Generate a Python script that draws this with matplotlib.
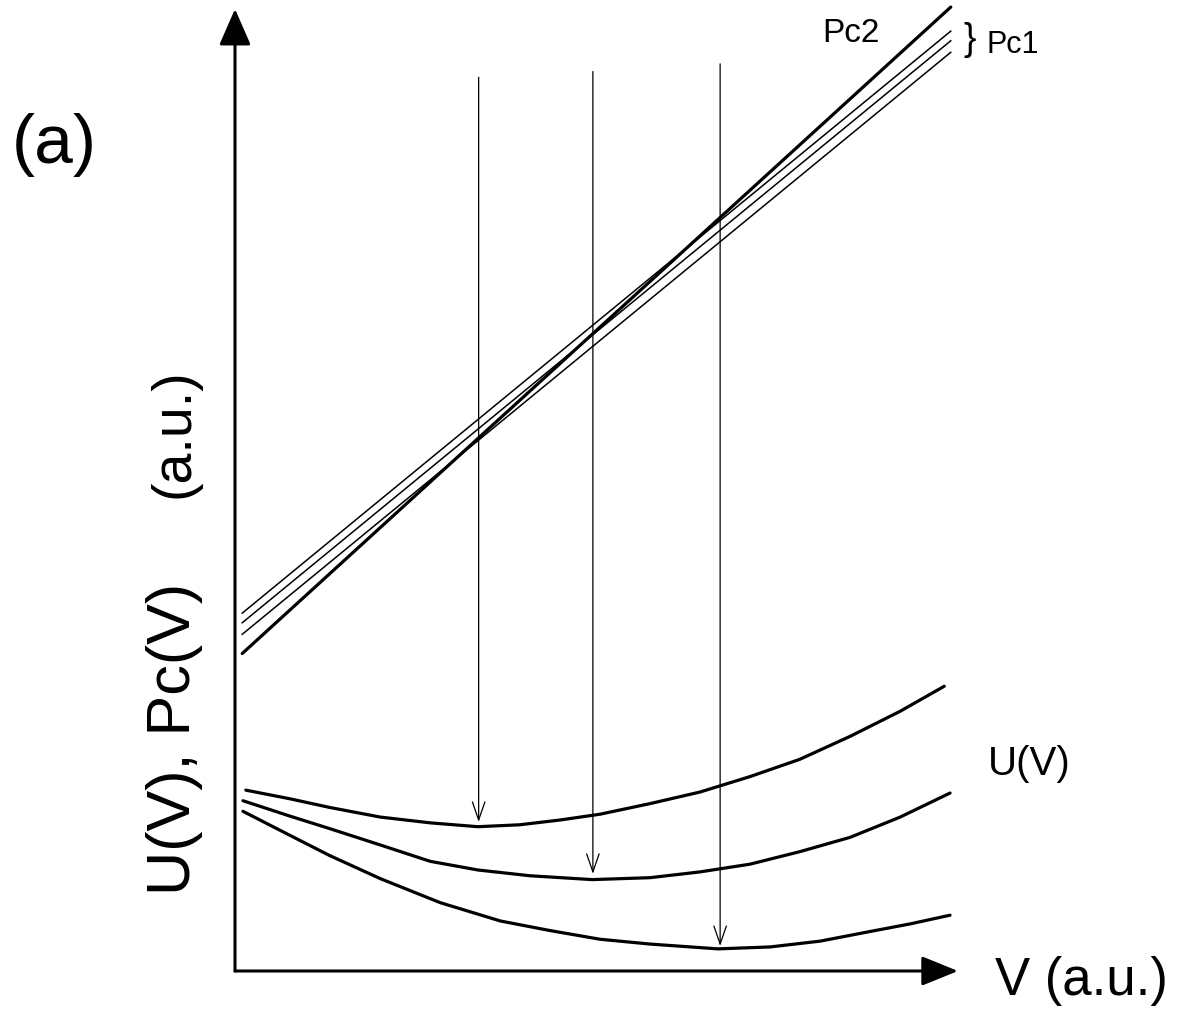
import matplotlib
matplotlib.use("Agg")
import matplotlib.pyplot as plt

plt.rcParams['font.family'] = ['Liberation Sans', 'DejaVu Sans']

# ---- data (arbitrary units) ----
pc_v = [0.1, 9.9]
pc2_u = [3.30, 10.02]
pc1a_u = [3.72, 9.77]
pc1b_u = [3.62, 9.67]
pc1c_u = [3.50, 9.55]

u1_v = [0.15, 0.76, 1.31, 2.01, 2.70, 3.36, 3.94, 4.50, 5.05, 5.74, 6.43, 7.12, 7.81, 8.51, 9.20, 9.81]
u1_u = [1.88, 1.79, 1.70, 1.60, 1.54, 1.50, 1.52, 1.57, 1.63, 1.74, 1.86, 2.02, 2.20, 2.44, 2.70, 2.96]

u2_v = [0.11, 0.76, 1.31, 2.01, 2.70, 3.36, 4.08, 4.94, 5.74, 6.43, 7.12, 7.81, 8.51, 9.20, 9.89]
u2_u = [1.77, 1.61, 1.48, 1.31, 1.14, 1.05, 0.99, 0.95, 0.97, 1.03, 1.11, 1.24, 1.39, 1.60, 1.85]

u3_v = [0.11, 0.76, 1.31, 2.01, 2.84, 3.67, 4.36, 5.05, 5.74, 6.68, 7.40, 8.09, 8.78, 9.34, 9.89]
u3_u = [1.66, 1.41, 1.20, 0.96, 0.71, 0.52, 0.42, 0.33, 0.28, 0.23, 0.25, 0.31, 0.41, 0.49, 0.58]

arrow_v = [3.37, 4.95, 6.71]
arrow_top = [9.29, 9.35, 9.43]
arrow_tip = [1.55, 1.01, 0.26]

W, H = 1179, 1012
fig = plt.figure(figsize=(W / 100, H / 100), dpi=100)
x0, y0, x1, y1 = 235, 972, 958, 10
ax = fig.add_axes([x0 / W, 1 - y0 / H, (x1 - x0) / W, (y0 - y1) / H])
ax.set_xlim(0, 10)
ax.set_ylim(0, 10)
ax.axis('off')

# axes with filled arrow heads
ax.annotate('', xy=(0, 10), xytext=(0, 0),
            arrowprops=dict(arrowstyle='-|>,head_length=1.6,head_width=0.7', lw=2.2,
                            color='black', shrinkA=0, shrinkB=0, mutation_scale=14),
            annotation_clip=False)
ax.annotate('', xy=(10, 0), xytext=(0, 0),
            arrowprops=dict(arrowstyle='-|>,head_length=1.6,head_width=0.65', lw=2.2,
                            color='black', shrinkA=0, shrinkB=0, mutation_scale=14),
            annotation_clip=False)

# Pc lines
ax.plot(pc_v, pc2_u, color='black', lw=2.3, clip_on=False, solid_capstyle='round')
for u in (pc1a_u, pc1b_u, pc1c_u):
    ax.plot(pc_v, u, color='black', lw=1.1, clip_on=False)

# U(V) curves
for vv, uu in ((u1_v, u1_u), (u2_v, u2_u), (u3_v, u3_u)):
    ax.plot(vv, uu, color='black', lw=2.3, clip_on=False,
            solid_capstyle='round', solid_joinstyle='round')

# vertical arrows
for v, t, b in zip(arrow_v, arrow_top, arrow_tip):
    ax.annotate('', xy=(v, b), xytext=(v, t),
                arrowprops=dict(arrowstyle='->,head_length=1.3,head_width=0.45', lw=0.9,
                                color='black', shrinkA=0, shrinkB=0, mutation_scale=10),
                annotation_clip=False)

# texts
ax.text(-2.5, 8.6, '(a)', fontsize=50, ha='center', va='center')
ax.text(10.51, -0.24, 'V (a.u.)', fontsize=38, ha='left', va='baseline')
ax.text(10.41, 2.05, 'U(V)', fontsize=29, ha='left', va='baseline')
ax.text(8.12, 9.67, 'Pc2', fontsize=24, ha='left', va='baseline')
ax.text(10.08, 9.58, '}', fontsize=27, ha='left', va='baseline')
ax.text(10.4, 9.55, 'Pc1', fontsize=22, ha='left', va='baseline')
ax.text(-0.83, 2.42, 'U(V), Pc(V)', fontsize=44, rotation=90, ha='center', va='center')
ax.text(-0.83, 5.6, '(a.u.)', fontsize=40, rotation=90, ha='center', va='center')

fig.savefig('out.png', dpi=100)
